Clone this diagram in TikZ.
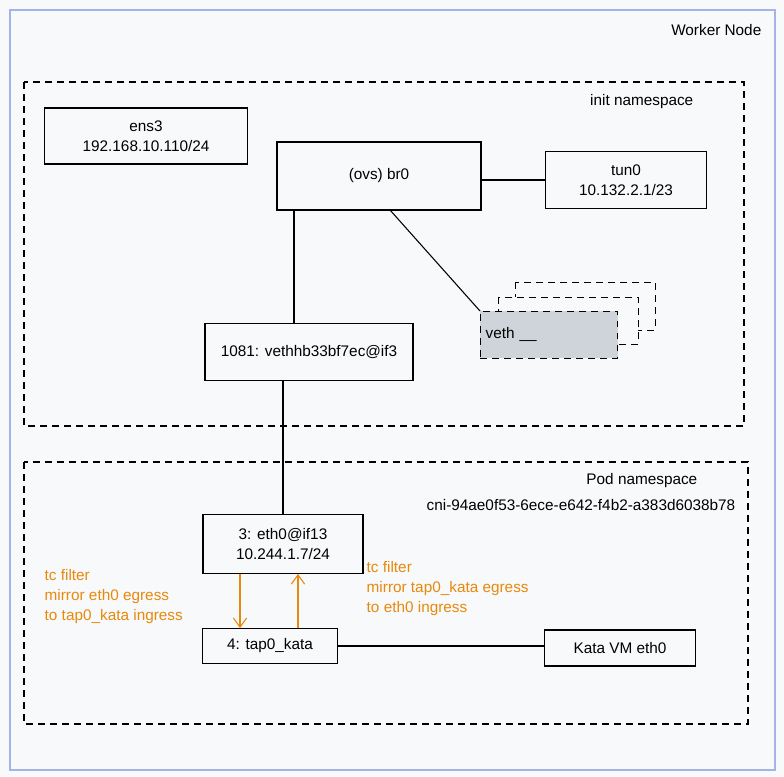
\documentclass[tikz,border=0pt]{standalone}
\usepackage{fontspec}
\setmainfont{Liberation Sans}
\usetikzlibrary{positioning,arrows.meta}
\definecolor{bgpaper}{HTML}{F8F9FA}
\definecolor{frameblue}{HTML}{A5B4E8}
\definecolor{tcorange}{HTML}{E8890C}
\definecolor{vethgray}{HTML}{CED4DA}
\tikzset{
  box/.style={draw, thick, align=center, font=\fontsize{11.5}{15}\selectfont},
  ns/.style={draw, thick, dash pattern=on 5pt off 4pt},
  lbl/.style={font=\fontsize{11.5}{15}\selectfont},
  tc/.style={lbl, text=tcorange, align=left, anchor=north west},
  tcarrow/.style={draw=tcorange, thick, -{Straight Barb[length=7pt,width=10pt]}}
}
\begin{document}
\begin{tikzpicture}[x=0.75pt,y=-0.75pt]
\useasboundingbox (0,0) rectangle (784,776);
\fill[bgpaper] (0,0) rectangle (784,776);
\draw[frameblue, thick] (10,10) rectangle (775,770);
\node[lbl, anchor=north east] (worker) at (766,20) {Worker Node};
% namespaces
\draw[ns] (24,82) rectangle (744,426);
\node[lbl, anchor=north east] (initns) at (698,90) {init namespace};
\draw[ns] (24,462) rectangle (748,724);
\node[lbl, anchor=north east] (podns) at (702,469) {Pod namespace};
\node[lbl, anchor=north east] (podid) at (740,495) {cni-94ae0f53-6ece-e642-f4b2-a383d6038b78};
% interfaces
\node[box, minimum width=152pt, minimum height=42pt] (ens3) at (146,136) {ens3\\192.168.10.110/24};
\node[box, minimum width=153pt, minimum height=51pt] (br0) at (379,176) {(ovs) br0};
\node[box, minimum width=121pt, minimum height=43pt] (tun0) at (626,180) {tun0\\10.132.2.1/23};
\draw[ns, thin] (515,282) rectangle (655,330);
\draw[ns, thin, fill=bgpaper] (498,297) rectangle (638,344);
\node[box, ns, thin, fill=vethgray, minimum width=103pt, minimum height=35pt, anchor=north west, text width=95pt, align=left] (veth) at (480,311) {veth \_\_};
\node[box, minimum width=156pt, minimum height=43pt] (vethhb) at (309,352) {1081: vethhb33bf7ec@if3};
\node[box, minimum width=120pt, minimum height=44pt] (eth0) at (283,544) {3: eth0@if13\\10.244.1.7/24};
\node[box, minimum width=101pt, minimum height=26pt] (tap0) at (270,646) {4: tap0\_kata};
\node[box, minimum width=113pt, minimum height=27pt] (kata) at (620,648) {Kata VM eth0};
% links
\draw[thick] (br0.east |- tun0.west) -- (tun0.west);
\draw[thick] (294,210) -- (vethhb.north -| 294,0);
\draw[thick] (390,210) -- (veth.north west) ++(13,-3);
\draw[thick] (vethhb.south -| 283,0) -- (eth0.north);
\draw[thick] (tap0.east) -- (tap0.east -| kata.west);
% tc mirroring
\draw[tcarrow] (eth0.south -| 240,0) -- (tap0.north -| 240,0);
\draw[tcarrow] (tap0.north -| 298,0) -- (eth0.south -| 298,0);
\node[tc] (tcleft) at (40,565) {tc filter\\mirror eth0 egress\\to tap0\_kata ingress};
\node[tc] (tcright) at (362,557) {tc filter\\mirror tap0\_kata egress\\to eth0 ingress};
\end{tikzpicture}
\end{document}
